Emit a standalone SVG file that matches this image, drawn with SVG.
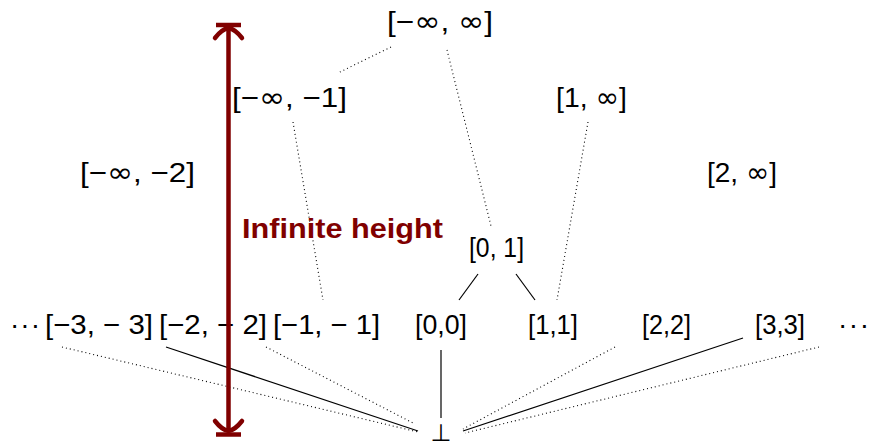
<svg xmlns="http://www.w3.org/2000/svg" width="871" height="448" viewBox="0 0 871 448">
<style>
  .lbl { font-family: "Liberation Sans", "DejaVu Sans", sans-serif; font-size: 28px; fill: #000; }
  .inf { font-family: "DejaVu Sans", sans-serif; }
  .sym { font-family: "DejaVu Sans", sans-serif; font-size: 24px; fill: #000; }
  .solid { stroke: #000; stroke-width: 1.2; fill: none; }
  .dot { stroke: #000; stroke-width: 1.1; stroke-dasharray: 1 3; fill: none; }
  .red { stroke: #800000; fill: none; stroke-width: 4.5; }
  .redtxt { font-family: "Liberation Sans", sans-serif; font-weight: bold; font-size: 28px; fill: #800000; }
</style>
<rect width="871" height="448" fill="#fff"/>
<g id="connectors">
  <line class="dot" x1="391" y1="47" x2="338" y2="73"/>
  <line class="dot" x1="447" y1="50" x2="491" y2="226"/>
  <line class="dot" x1="293" y1="122" x2="323" y2="300"/>
  <line class="dot" x1="588" y1="122" x2="557" y2="300"/>
  <line class="solid" x1="478" y1="274" x2="459" y2="300"/>
  <line class="solid" x1="516" y1="274" x2="535" y2="300"/>
  <line class="solid" x1="441" y1="350" x2="441" y2="418"/>
  <line class="dot" x1="62" y1="347" x2="418" y2="432"/>
  <line class="solid" x1="166" y1="347" x2="418" y2="431"/>
  <line class="dot" x1="266" y1="347" x2="413" y2="423"/>
  <line class="dot" x1="615" y1="347" x2="463" y2="429"/>
  <line class="solid" x1="743" y1="338" x2="463" y2="431"/>
  <line class="dot" x1="819" y1="347" x2="465" y2="433"/>
</g>
<g id="n-top"><text class="lbl" x="387" y="31" textLength="106" lengthAdjust="spacingAndGlyphs">[−<tspan class="inf">∞</tspan>, <tspan class="inf">∞</tspan>]</text></g>
<g id="n-minf-m1"><text class="lbl" x="232" y="107" textLength="115" lengthAdjust="spacingAndGlyphs">[−<tspan class="inf">∞</tspan>, −1]</text></g>
<g id="n-1-inf"><text class="lbl" x="556" y="107" textLength="71" lengthAdjust="spacingAndGlyphs">[1, <tspan class="inf">∞</tspan>]</text></g>
<g id="n-minf-m2"><text class="lbl" x="80" y="182" textLength="115" lengthAdjust="spacingAndGlyphs">[−<tspan class="inf">∞</tspan>, −2]</text></g>
<g id="n-2-inf"><text class="lbl" x="707" y="182" textLength="70" lengthAdjust="spacingAndGlyphs">[2, <tspan class="inf">∞</tspan>]</text></g>
<g id="n-0-1"><text class="lbl" x="469" y="257" textLength="55" lengthAdjust="spacingAndGlyphs">[0, 1]</text></g>
<g id="n-dots-left"><text class="lbl" x="10" y="334" textLength="30" lengthAdjust="spacing">···</text></g>
<g id="n-m3"><text class="lbl" x="45" y="334" textLength="108" lengthAdjust="spacingAndGlyphs">[−3, − 3]</text></g>
<g id="n-m2"><text class="lbl" x="159" y="334" textLength="108" lengthAdjust="spacingAndGlyphs">[−2, − 2]</text></g>
<g id="n-m1"><text class="lbl" x="273" y="334" textLength="107" lengthAdjust="spacingAndGlyphs">[−1, − 1]</text></g>
<g id="n-0"><text class="lbl" x="415" y="334" textLength="52" lengthAdjust="spacingAndGlyphs">[0,0]</text></g>
<g id="n-1"><text class="lbl" x="528" y="334" textLength="50" lengthAdjust="spacingAndGlyphs">[1,1]</text></g>
<g id="n-2"><text class="lbl" x="642" y="334" textLength="49" lengthAdjust="spacingAndGlyphs">[2,2]</text></g>
<g id="n-3"><text class="lbl" x="755" y="334" textLength="50" lengthAdjust="spacingAndGlyphs">[3,3]</text></g>
<g id="n-dots-right"><text class="lbl" x="838" y="334" textLength="31" lengthAdjust="spacing">···</text></g>
<g id="n-bottom"><text class="sym" x="441" y="441" text-anchor="middle">⊥</text></g>
<g id="height-arrow">
  <line class="red" x1="228.5" y1="28" x2="228.5" y2="431"/>
  <line class="red" x1="216" y1="25" x2="241" y2="25"/>
  <line class="red" x1="216" y1="434.5" x2="241" y2="434.5"/>
  <path class="red" stroke-width="4" stroke-linecap="round" d="M215,38 Q222,29 228.5,28 Q235,29 242,38"/>
  <path class="red" stroke-width="4" stroke-linecap="round" d="M215,421 Q222,430 228.5,431 Q235,430 242,421"/>
  <text class="redtxt" x="242" y="238" textLength="201" lengthAdjust="spacingAndGlyphs">Infinite height</text>
</g>
</svg>
